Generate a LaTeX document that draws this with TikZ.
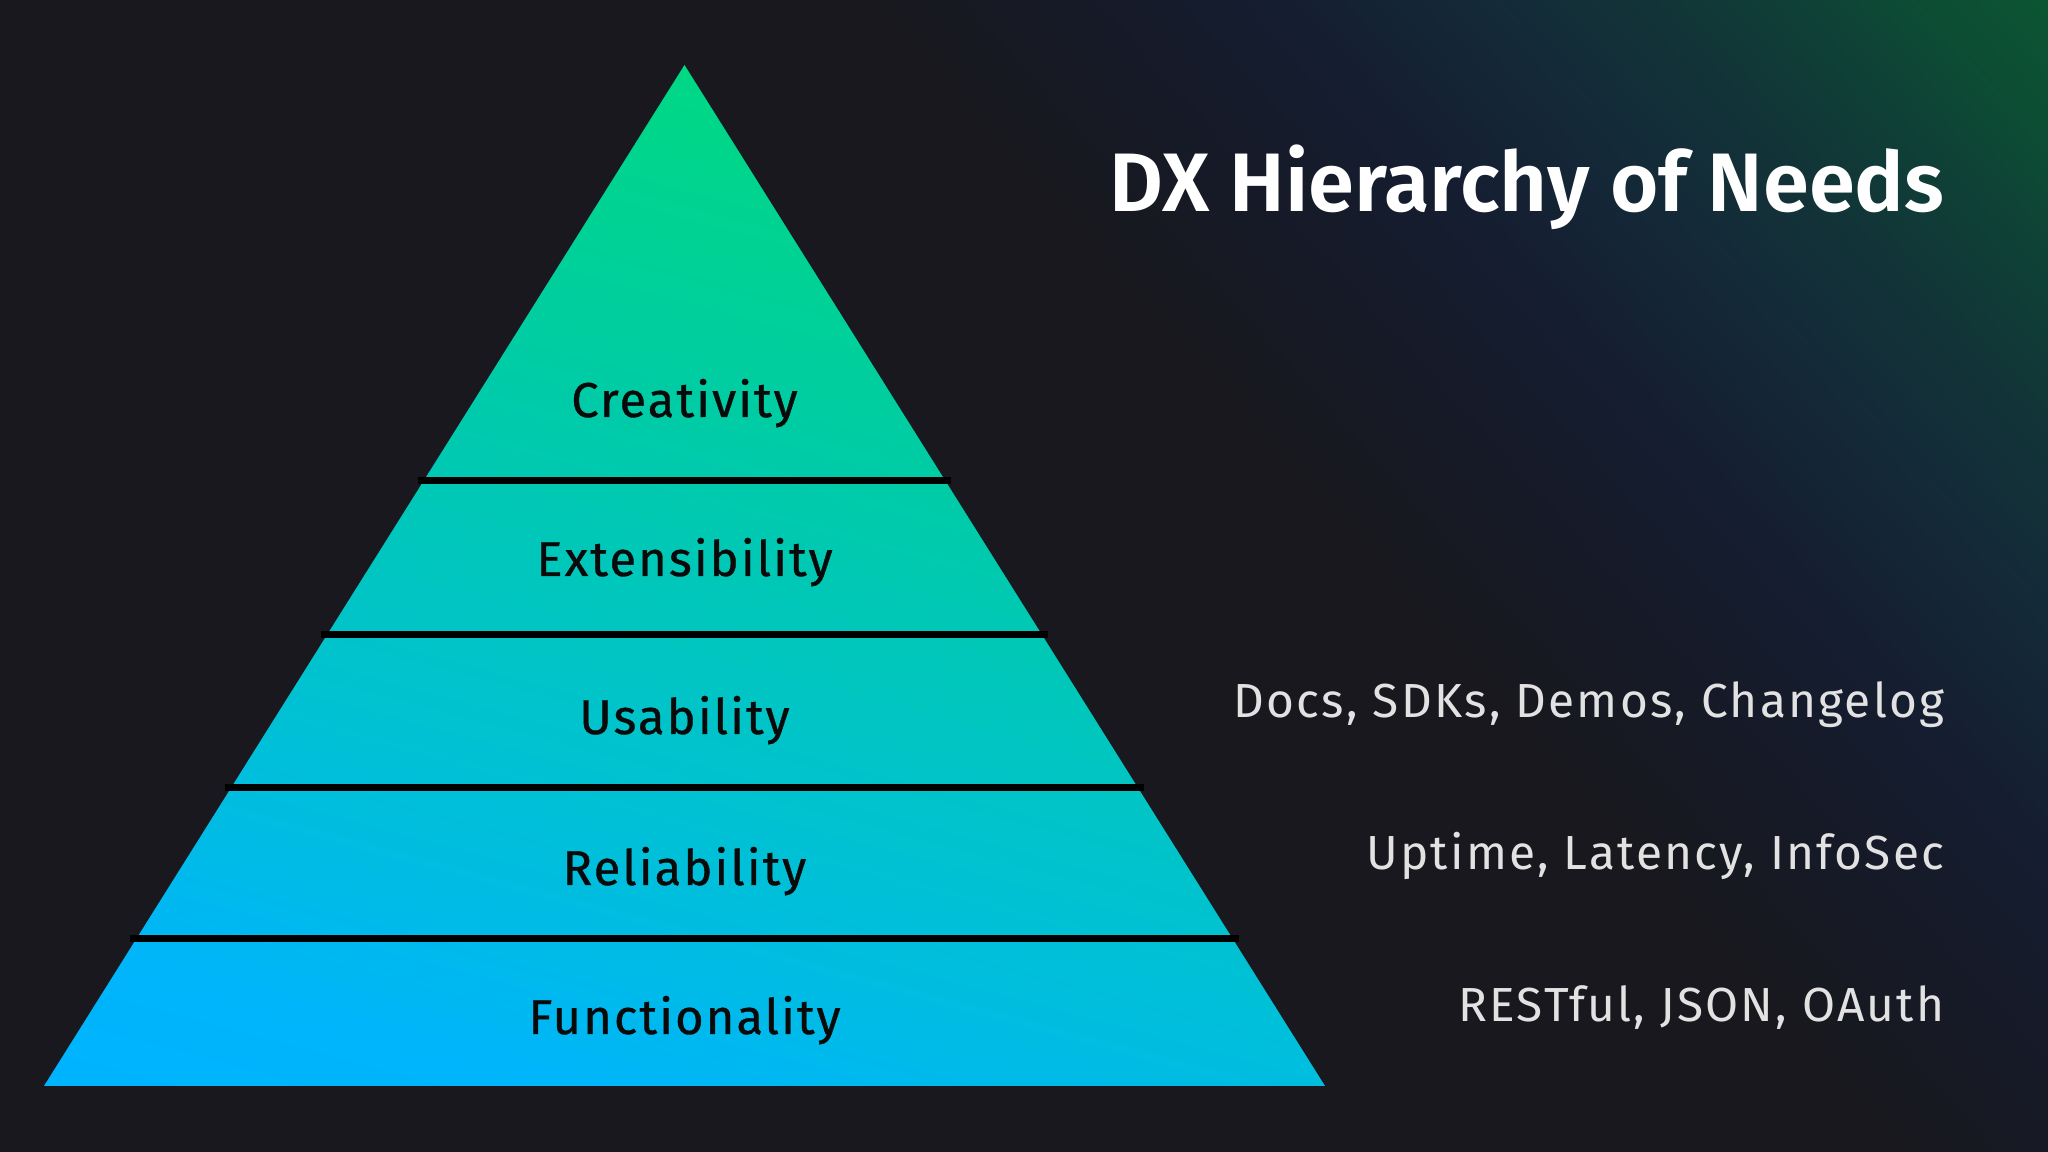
\documentclass[tikz,border=0pt]{standalone}
\usepackage{fontspec}
\setmainfont{Fira Sans}
\newfontfamily\tierfont{Fira Sans}[LetterSpace=4.3, FakeBold=0.7]
\newfontfamily\notefont{Fira Sans}[LetterSpace=4.7]
\newfontfamily\titlefont{Fira Sans SemiBold}
\usetikzlibrary{calc}

\definecolor{bgdark}{HTML}{18181E}
\definecolor{bgdusk}{HTML}{161A28}
\definecolor{bgnavy}{HTML}{151D30}
\definecolor{bgslate}{HTML}{142838}
\definecolor{bgteal}{HTML}{123338}
\definecolor{bgpine}{HTML}{0F4036}
\definecolor{bgdeep}{HTML}{0D4A35}
\definecolor{bggreen}{HTML}{0B5632}
\definecolor{notegray}{HTML}{E2E2E2}
\definecolor{tierink}{HTML}{0A0A0A}
\definecolor{pyrA}{HTML}{00B3FF}
\definecolor{pyrB}{HTML}{00B5FA}
\definecolor{pyrC}{HTML}{00BDE0}
\definecolor{pyrD}{HTML}{00C2D0}
\definecolor{pyrE}{HTML}{00CCA4}
\definecolor{pyrF}{HTML}{00D884}

\pgfdeclareverticalshading{bgglow}{100bp}{color(0bp)=(bgdark); color(31bp)=(bgdark); color(39.3bp)=(bgdusk);
  color(46.1bp)=(bgnavy); color(52.9bp)=(bgslate); color(59.75bp)=(bgteal); color(65.5bp)=(bgpine);
  color(69.1bp)=(bgdeep); color(75bp)=(bggreen); color(100bp)=(bggreen)}
\pgfdeclareverticalshading{pyrfade}{100bp}{color(0bp)=(pyrA); color(25bp)=(pyrA); color(31bp)=(pyrB);
  color(39bp)=(pyrC); color(45bp)=(pyrD); color(61bp)=(pyrE); color(75bp)=(pyrF); color(100bp)=(pyrF)}

\tikzset{
  tier/.style={anchor=base, inner sep=0pt, text=tierink, font=\tierfont\fontsize{13.9}{16}\selectfont},
  note/.style={anchor=base east, inner sep=0pt, text=notegray, font=\notefont\fontsize{13.6}{16}\selectfont},
  tierline/.style={line width=0.07cm, color=black},
}

\begin{document}
\begin{tikzpicture}[x=0.01cm, y=0.01cm]
		%%%%% START %%%%%
		\useasboundingbox (0, 0) rectangle (2048, 1152);
		\fill[bgdark] (0, 0) rectangle (2048, 1152);
		
		% glow in the upper right corner
		\begin{scope}
			\clip (0, 0) rectangle (2048, 1152);
			\begin{scope}[transform canvas={rotate around={-48:(2048, 1152)}}]
				\shade[shading=bgglow] (448, 152) rectangle (3648, 1152);
			\end{scope}
		\end{scope}
		
		% pyramid
		\begin{scope}
			\clip (44, 66) -- (684.5, 1087) -- (1325, 66) -- cycle;
			\begin{scope}[transform canvas={rotate around={-15:(44, 66)}}]
				\shade[shading=pyrfade] (-600, 66) rectangle (2000, 1218);
			\end{scope}
		\end{scope}
		
		\foreach \y in {671, 517, 364, 213} {
			\pgfmathsetmacro\w{0.6273*(1087-\y)+6}
			\draw[tierline] ({684.5-\w}, \y) -- ({684.5+\w}, \y);
		}
		
		\node[tier] (creativity) at (684.5, 735) {Creativity};
		\node[tier] (extensibility) at (684.5, 576) {Extensibility};
		\node[tier] (usability) at (684.5, 418) {Usability};
		\node[tier] (reliability) at (684.5, 267) {Reliability};
		\node[tier] (functionality) at (684.5, 118) {Functionality};
		
		% title and notes
		\node[anchor=base east, inner sep=0pt, text=white, font=\titlefont\fontsize{23.6}{28}\selectfont] (title) at (1945, 940) {DX Hierarchy of Needs};
		
		\node[note] (usenote) at (1945, 434) {Docs, SDKs, Demos, Changelog};
		\node[note] (relnote) at (1945, 282) {Uptime, Latency, InfoSec};
		\node[note] (funcnote) at (1945, 130) {RESTful, JSON, OAuth};
		%%%%% END %%%%%
\end{tikzpicture}
\end{document}
